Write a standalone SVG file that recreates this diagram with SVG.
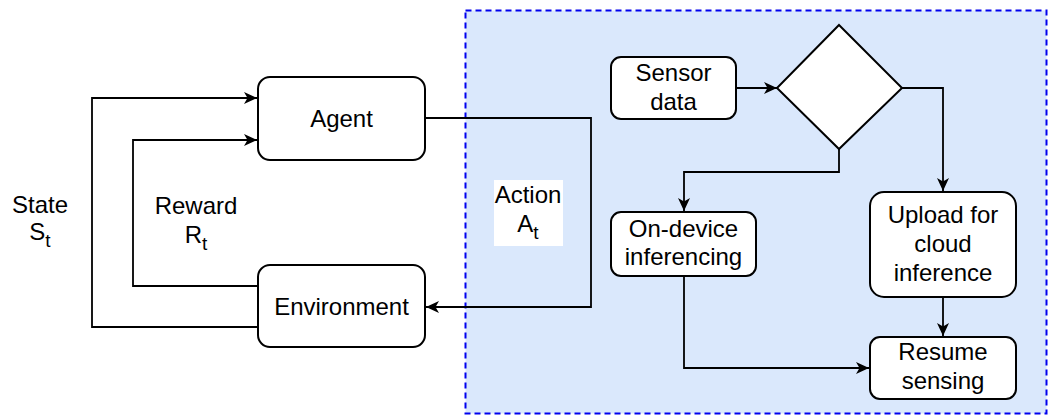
<svg xmlns="http://www.w3.org/2000/svg" width="1052" height="416" viewBox="0 0 1052 416">
  <style>
    .box { fill: #ffffff; stroke: #000000; stroke-width: 2; }
    .edge { fill: none; stroke: #000000; stroke-width: 1.8; }
    .lbl { font-family: "Liberation Sans", Arial, sans-serif; font-size: 24px; fill: #000000; text-anchor: middle; }
    .sub { font-size: 19px; }
  </style>
  <defs>
    <marker id="arrow" markerUnits="userSpaceOnUse" markerWidth="13" markerHeight="12" refX="13" refY="6" orient="auto">
      <path d="M0,0 L13,6 L0,12 L3.5,6 z" fill="#000000"/>
    </marker>
  </defs>

  <rect width="1052" height="416" fill="#ffffff"/>

  <!-- edge-device region -->
  <g id="edge-region">
    <rect x="465.5" y="10.5" width="581" height="403" fill="#dae8fc" stroke="#0000ee" stroke-width="2" stroke-dasharray="6 4"/>
  </g>

  <!-- connectors -->
  <g id="connectors">
    <path class="edge" d="M425,118 H591 V307 H426" marker-end="url(#arrow)"/>
    <path class="edge" d="M258,327 H92 V98 H257" marker-end="url(#arrow)"/>
    <path class="edge" d="M258,286 H133 V140 H257" marker-end="url(#arrow)"/>
    <path class="edge" d="M736,88 H777" marker-end="url(#arrow)"/>
    <path class="edge" d="M902,88 H943 V191" marker-end="url(#arrow)"/>
    <path class="edge" d="M839,149 V172 H684 V211" marker-end="url(#arrow)"/>
    <path class="edge" d="M684,276 V368 H869" marker-end="url(#arrow)"/>
    <path class="edge" d="M943,297 V336" marker-end="url(#arrow)"/>
  </g>

  <!-- edge labels -->
  <g id="label-state">
    <text class="lbl" x="40" y="213">State</text>
    <text class="lbl" x="40" y="240">S<tspan class="sub" dy="7">t</tspan></text>
  </g>
  <g id="label-reward">
    <text class="lbl" x="196" y="214">Reward</text>
    <text class="lbl" x="196" y="243">R<tspan class="sub" dy="7">t</tspan></text>
  </g>
  <g id="label-action">
    <rect x="494" y="180" width="69" height="66" fill="#ffffff"/>
    <text class="lbl" x="528" y="203">Action</text>
    <text class="lbl" x="528" y="232">A<tspan class="sub" dy="7">t</tspan></text>
  </g>

  <!-- nodes -->
  <g id="agent">
    <rect class="box" x="258" y="77" width="167" height="83" rx="12"/>
    <text class="lbl" x="341.5" y="127">Agent</text>
  </g>
  <g id="environment">
    <rect class="box" x="258" y="265" width="167" height="82" rx="12"/>
    <text class="lbl" x="341.5" y="315">Environment</text>
  </g>
  <g id="sensor-data">
    <rect class="box" x="611" y="57" width="125" height="62" rx="10"/>
    <text class="lbl" x="673.5" y="81">Sensor</text>
    <text class="lbl" x="673.5" y="110">data</text>
  </g>
  <g id="decision">
    <polygon class="box" points="839,25 902,88 839,149 777,88"/>
  </g>
  <g id="on-device">
    <rect class="box" x="611" y="212" width="145" height="64" rx="10"/>
    <text class="lbl" x="683.5" y="237">On-device</text>
    <text class="lbl" x="683.5" y="265">inferencing</text>
  </g>
  <g id="upload">
    <rect class="box" x="870" y="192" width="146" height="105" rx="14"/>
    <text class="lbl" x="943" y="223">Upload for</text>
    <text class="lbl" x="943" y="252">cloud</text>
    <text class="lbl" x="943" y="281">inference</text>
  </g>
  <g id="resume">
    <rect class="box" x="870" y="337" width="146" height="62" rx="10"/>
    <text class="lbl" x="943" y="360">Resume</text>
    <text class="lbl" x="943" y="389">sensing</text>
  </g>
</svg>
